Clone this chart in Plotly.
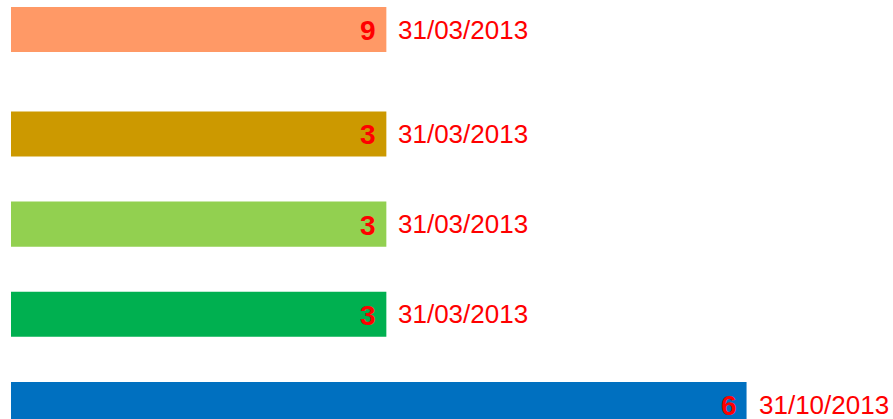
import plotly.graph_objects as go
from datetime import date, timedelta

# ---- data ----
rows = ["Task 1", "Task 2", "Task 3", "Task 4", "Task 5"]
end_dates = ["2013-03-31", "2013-03-31", "2013-03-31", "2013-03-31", "2013-10-31"]
date_labels = ["31/03/2013", "31/03/2013", "31/03/2013", "31/03/2013", "31/10/2013"]
counts = ["9", "3", "3", "3", "6"]
colors = ["#FF9966", "#CC9900", "#92D050", "#00B050", "#0070C0"]

# ---- layout geometry ----
W, H = 893, 419
left_px = 11
axis_start = date(2012, 8, 20)
px_per_day = 360 / 214.0
span_days = (W - left_px) / px_per_day
axis_end = axis_start + timedelta(days=span_days)

row_px = 90.17
top_center, bottom_center = 29.5, 404.5

fig = go.Figure()

# top row on its own overlay axis (extra gap above the others)
fig.add_trace(go.Bar(
    y=[rows[0]], x=[end_dates[0]], orientation="h",
    marker=dict(color=colors[0], line=dict(width=0)),
    width=0.5, yaxis="y2", hoverinfo="skip", showlegend=False,
))
for i in range(1, 5):
    fig.add_trace(go.Bar(
        y=[rows[i]], x=[end_dates[i]], orientation="h",
        marker=dict(color=colors[i], line=dict(width=0)),
        width=0.5, yaxis="y", hoverinfo="skip", showlegend=False,
    ))

annotations = []
for i in range(5):
    yref = "y2" if i == 0 else "y"
    annotations.append(dict(
        x=end_dates[i], y=rows[i], xref="x", yref=yref,
        text="<b>%s</b>" % counts[i], showarrow=False,
        xanchor="right", yanchor="middle", xshift=-8, yshift=-1,
        font=dict(family="Arial, Liberation Sans", size=28, color="#FF0000"),
    ))
    annotations.append(dict(
        x=end_dates[i], y=rows[i], xref="x", yref=yref,
        text=date_labels[i], showarrow=False,
        xanchor="left", yanchor="middle", xshift=10,
        font=dict(family="Arial, Liberation Sans", size=26, color="#FF0000"),
    ))

bottom_rows = rows[1:][::-1]  # bottom to top
fig.update_layout(
    width=W, height=H,
    margin=dict(l=left_px, r=0, t=0, b=0),
    paper_bgcolor="white", plot_bgcolor="white",
    barmode="overlay",
    xaxis=dict(type="date", range=[axis_start.isoformat(), axis_end.isoformat()],
               visible=False, showgrid=False, zeroline=False),
    yaxis=dict(type="category", categoryorder="array", categoryarray=bottom_rows,
               range=[-(H - bottom_center) / row_px, bottom_center / row_px],
               visible=False, showgrid=False, zeroline=False),
    yaxis2=dict(type="category", overlaying="y",
                range=[-(H - top_center) / row_px, top_center / row_px],
                visible=False, showgrid=False, zeroline=False),
    annotations=annotations,
)

fig.write_html(
    "out.html",
    config={"displayModeBar": False, "staticPlot": True},
    post_script="document.body.style.margin='0';document.body.style.overflow='hidden';",
)
